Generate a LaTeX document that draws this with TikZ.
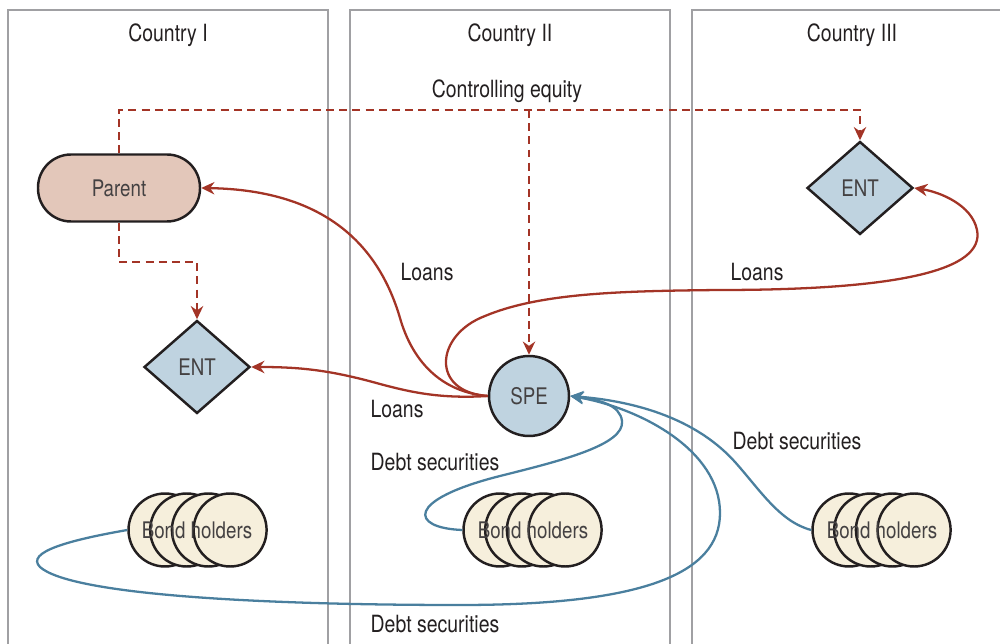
\documentclass[tikz,border=0pt]{standalone}
\usepackage{fontspec}
\setmainfont{TeX Gyre Heros}[FakeStretch=0.82]
\usetikzlibrary{shapes.geometric,arrows.meta}
\definecolor{ink}{HTML}{231F20}
\definecolor{frame}{HTML}{A0A0A3}
\definecolor{loanred}{HTML}{A33426}
\definecolor{debtblue}{HTML}{4A7F9E}
\definecolor{parentfill}{HTML}{E3C7BA}
\definecolor{entfill}{HTML}{BFD3E0}
\definecolor{bondfill}{HTML}{F6EFDC}
\tikzset{
  lbl/.style={font=\fontsize{13.5}{15}\selectfont, text=ink, inner sep=0pt},
  nodetext/.style={font=\fontsize{13}{15}\selectfont, text=ink!85},
  panel/.style={draw=frame, line width=1.6pt},
  parentbox/.style={draw=ink, line width=1.4pt, fill=parentfill, rounded corners=0.66cm,
    minimum width=3.24cm, minimum height=1.34cm, nodetext},
  entbox/.style={diamond, draw=ink, line width=1.4pt, fill=entfill, inner sep=0pt,
    minimum width=2.12cm, minimum height=1.86cm, nodetext},
  spebox/.style={circle, draw=ink, line width=1.4pt, fill=entfill, minimum size=1.6cm, inner sep=0pt, nodetext},
  bondcirc/.style={circle, draw=ink, line width=1.4pt, fill=bondfill, minimum size=1.46cm, inner sep=0pt},
  equity/.style={draw=loanred, line width=1.3pt, dash pattern=on 4.5pt off 3pt,
    -{Stealth[length=7.5pt,width=7pt]}},
  loan/.style={draw=loanred, line width=1.3pt, -{Stealth[length=7.5pt,width=7pt]}},
  debt/.style={draw=debtblue, line width=1.3pt, -{Stealth[length=7.5pt,width=7pt]}},
}
\begin{document}
\begin{tikzpicture}[x=0.02cm,y=-0.02cm]
\useasboundingbox (0,0) rectangle (1000,644);

% country panels, open at the bottom
\draw[panel] (8,660) |- (328,10) -- (328,660);
\draw[panel] (350,660) |- (670,10) -- (670,660);
\draw[panel] (692,660) |- (1010,10);

\node[lbl] (t1) at (168,35) {Country I};
\node[lbl] (t2) at (510,35) {Country II};
\node[lbl] (t3) at (852,35) {Country III};

% entities
\node[parentbox] (parent) at (119,188) {Parent};
\node[entbox] (entA) at (197,367) {ENT};
\node[entbox] (entB) at (860,188) {ENT};
\node[spebox] (spe) at (529,396) {SPE};

% bond holder groups: four overlapping discs each
\foreach \g/\cx in {A/165,B/500,C/849}{
  \foreach \i in {0,1,2,3}{
    \node[bondcirc] (bond\g\i) at ({\cx+21.7*\i},530) {};
  }
}
\node[nodetext, inner sep=0pt] (bondAt) at (197,530) {Bond holders};
\node[nodetext, inner sep=0pt] (bondBt) at (533,530) {Bond holders};
\node[nodetext, inner sep=0pt] (bondCt) at (882,530) {Bond holders};

% controlling equity
\coordinate (eqA) at (119,110);
\coordinate (eqB) at (529,110);
\coordinate (eqC) at (860,110);
\coordinate (eqD) at (119,262);
\coordinate (eqE) at (197,262);
\draw[equity] (parent.north) -- (eqA) -- (eqC) -- (entB.north);
\draw[equity] (eqB) -- (spe.north);
\draw[equity] (parent.south) -- (eqD) -- (eqE) -- (entA.north);
\node[lbl] (leq) at (507,91) {Controlling equity};

% loans from the SPE
\draw[loan] (spe.west) .. controls (440,392) and (412,360) .. (400,318)
  .. controls (380,250) and (330,190) .. (parent.east);
\draw[loan] (spe.west) .. controls (440,399) and (410,392) .. (380,384)
  .. controls (330,370) and (300,367) .. (entA.east);
\draw[loan] (spe.west) .. controls (430,392) and (435,335) .. (485,316)
  .. controls (540,293) and (620,291) .. (720,290)
  .. controls (900,290) and (985,270) .. (977,230)
  .. controls (972,205) and (940,192) .. (entB.east);
\node[lbl] (l1) at (427,272) {Loans};
\node[lbl] (l2) at (397,409) {Loans};
\node[lbl] (l3) at (757,272) {Loans};

% debt securities issued by the SPE
\draw[debt] (bondA0.west) .. controls (70,540) and (25,552) .. (40,567)
  .. controls (70,594) and (250,605) .. (460,605)
  .. controls (640,605) and (720,575) .. (720,513)
  .. controls (720,450) and (640,408) .. (spe.east);
\draw[debt] (bondB0.west) .. controls (410,528) and (405,500) .. (500,476)
  .. controls (560,461) and (625,445) .. (622,421)
  .. controls (620,405) and (600,400) .. (spe.east);
\draw[debt] (bondC0.west) .. controls (780,522) and (760,490) .. (735,462)
  .. controls (690,412) and (620,400) .. (spe.east);
\node[lbl] (d1) at (435,462) {Debt securities};
\node[lbl] (d2) at (797,441) {Debt securities};
\node[lbl] (d3) at (435,624) {Debt securities};
\end{tikzpicture}
\end{document}
